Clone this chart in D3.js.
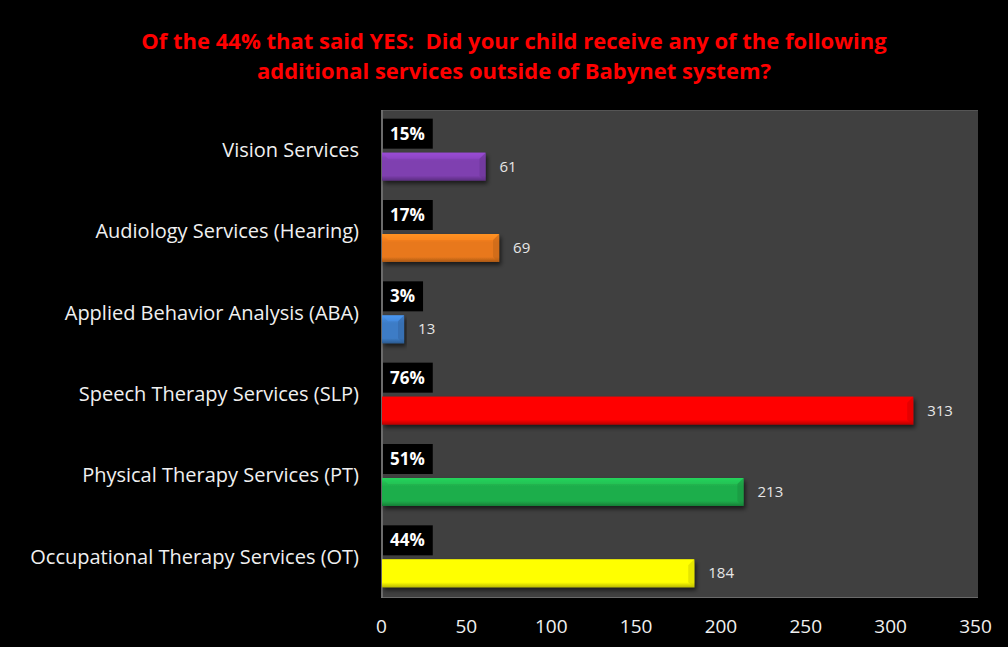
<!DOCTYPE html>
<html>
<head>
<meta charset="utf-8">
<script src="https://cdn.jsdelivr.net/npm/d3@7"></script>
<style>
  html, body { margin: 0; padding: 0; background: #000; }
  svg { display: block; }
</style>
</head>
<body>
<svg id="chart" width="1008" height="647"></svg>
<script>
var categories = ["Vision Services", "Audiology Services (Hearing)", "Applied Behavior Analysis (ABA)",
                  "Speech Therapy Services (SLP)", "Physical Therapy Services (PT)", "Occupational Therapy Services (OT)"];
var counts = [61, 69, 13, 313, 213, 184];
var percents = ["15%", "17%", "3%", "76%", "51%", "44%"];
var barColors = ["#7f3fb0", "#e8781c", "#3d7cc6", "#ff0000", "#1fae4c", "#ffff00"];
var xTicks = [0, 50, 100, 150, 200, 250, 300, 350];
var titleLines = ["Of the 44% that said YES:  Did your child receive any of the following",
                  "additional services outside of Babynet system?"];

var svg = d3.select("#chart");
var W = 1008, H = 647;
var plot = {left: 381, right: 978, top: 110, bottom: 598};

svg.append("rect").attr("width", W).attr("height", H).attr("fill", "#000");

// title
svg.append("g").selectAll("text").data(titleLines).enter().append("text")
  .attr("x", 514).attr("y", function(d, i){ return 49 + i * 30; })
  .attr("text-anchor", "middle")
  .style("white-space", "pre")
  .attr("font-family", "'Liberation Sans Narrow', 'Open Sans', sans-serif")
  .attr("font-weight", "bold").attr("font-size", 22)
  .attr("fill", "#ff0000")
  .text(function(d){ return d; });

var x = d3.scaleLinear().domain([0, 350]).range([381, 975]);
var y = d3.scaleBand().domain(categories).range([plot.top, plot.bottom]);

// plot area
svg.append("rect")
  .attr("x", plot.left).attr("y", plot.top)
  .attr("width", plot.right - plot.left).attr("height", plot.bottom - plot.top)
  .attr("fill", "#404040");
svg.append("line").attr("x1", plot.left).attr("x2", plot.right)
  .attr("y1", plot.top + 0.5).attr("y2", plot.top + 0.5).attr("stroke", "#555");
svg.append("line").attr("x1", plot.left).attr("x2", plot.right)
  .attr("y1", plot.bottom - 0.5).attr("y2", plot.bottom - 0.5).attr("stroke", "#6a6a6a");
svg.append("line").attr("x1", plot.left + 1).attr("x2", plot.left + 1)
  .attr("y1", plot.top).attr("y2", plot.bottom).attr("stroke", "#7a7a7a").attr("stroke-width", 1.5);

// gradients + shadow
var defs = svg.append("defs");
barColors.forEach(function(c, i){
  var base = d3.color(c);
  var g = defs.append("linearGradient").attr("id", "grad" + i)
    .attr("x1", 0).attr("y1", 0).attr("x2", 0).attr("y2", 1);
  g.append("stop").attr("offset", "0%").attr("stop-color", base.brighter(0.6));
  g.append("stop").attr("offset", "18%").attr("stop-color", base.brighter(0.15));
  g.append("stop").attr("offset", "30%").attr("stop-color", base);
  g.append("stop").attr("offset", "82%").attr("stop-color", base);
  g.append("stop").attr("offset", "100%").attr("stop-color", base.darker(0.9));
});
var f = defs.append("filter").attr("id", "shadow").attr("x", "-5%").attr("y", "-20%")
  .attr("width", "115%").attr("height", "160%");
f.append("feDropShadow").attr("dx", 2).attr("dy", 3).attr("stdDeviation", 2)
  .attr("flood-color", "#000").attr("flood-opacity", 0.6);

var barH = 28;
function barTop(d){ return y(d) + y.bandwidth() / 2 + 2; }

var rows = svg.append("g").selectAll("g").data(categories).enter().append("g");

rows.append("rect")
  .attr("x", x(0) + 1).attr("y", barTop)
  .attr("width", function(d, i){ return x(counts[i]) - x(0); })
  .attr("height", barH)
  .attr("fill", function(d, i){ return "url(#grad" + i + ")"; })
  .attr("filter", "url(#shadow)");

// bevel edges
rows.append("path")
  .attr("d", function(d, i){
    var x0 = x(0) + 1, x1 = x(counts[i]) + 1, t = barTop(d);
    return "M" + x0 + "," + t + "L" + x1 + "," + t + "L" + (x1 - 6) + "," + (t + 6) + "L" + (x0 + 6) + "," + (t + 6) + "Z";
  })
  .attr("fill", function(d, i){ return d3.color(barColors[i]).brighter(0.5); })
  .attr("opacity", 0.55);
rows.append("path")
  .attr("d", function(d, i){
    var x1 = x(counts[i]) + 1, t = barTop(d);
    return "M" + x1 + "," + t + "L" + x1 + "," + (t + barH) + "L" + (x1 - 6) + "," + (t + barH - 5) + "L" + (x1 - 6) + "," + (t + 6) + "Z";
  })
  .attr("fill", function(d, i){ return d3.color(barColors[i]).darker(0.6); })
  .attr("opacity", 0.5);

// value labels
rows.append("text")
  .attr("x", function(d, i){ return x(counts[i]) + 15; })
  .attr("y", function(d){ return barTop(d) + barH / 2 + 5; })
  .attr("font-family", "'Open Sans', sans-serif").attr("font-size", 15)
  .attr("fill", "#e6e6e6")
  .text(function(d, i){ return counts[i]; });

// percent labels in black boxes
var pl = rows.append("g");
pl.append("rect")
  .attr("x", x(0) + 2).attr("y", function(d){ return barTop(d) - 34; })
  .attr("height", 30).attr("fill", "#000");
pl.append("text")
  .attr("x", x(0) + 9).attr("y", function(d){ return barTop(d) - 13; })
  .attr("font-family", "'Open Sans', sans-serif").attr("font-weight", "bold").attr("font-size", 17)
  .attr("fill", "#fff")
  .text(function(d, i){ return percents[i]; });
pl.each(function(){
  var g = d3.select(this);
  var w = g.select("text").node().getComputedTextLength();
  g.select("rect").attr("width", w + 15);
});

// category labels
var yAxis = d3.axisLeft(y).tickSize(0).tickPadding(0);
var ya = svg.append("g").attr("transform", "translate(359,0)").call(yAxis);
ya.select(".domain").remove();
ya.selectAll("text")
  .attr("font-family", "'Open Sans', sans-serif").attr("font-size", 20)
  .attr("fill", "#f0f0f0");

// x axis tick labels
var xAxis = d3.axisBottom(x).tickValues(xTicks).tickSize(0).tickPadding(0);
var xa = svg.append("g").attr("transform", "translate(0,619)").call(xAxis);
xa.select(".domain").remove();
xa.selectAll("text")
  .attr("font-family", "'Open Sans', sans-serif").attr("font-size", 19)
  .attr("fill", "#f0f0f0");
</script>
</body>
</html>
